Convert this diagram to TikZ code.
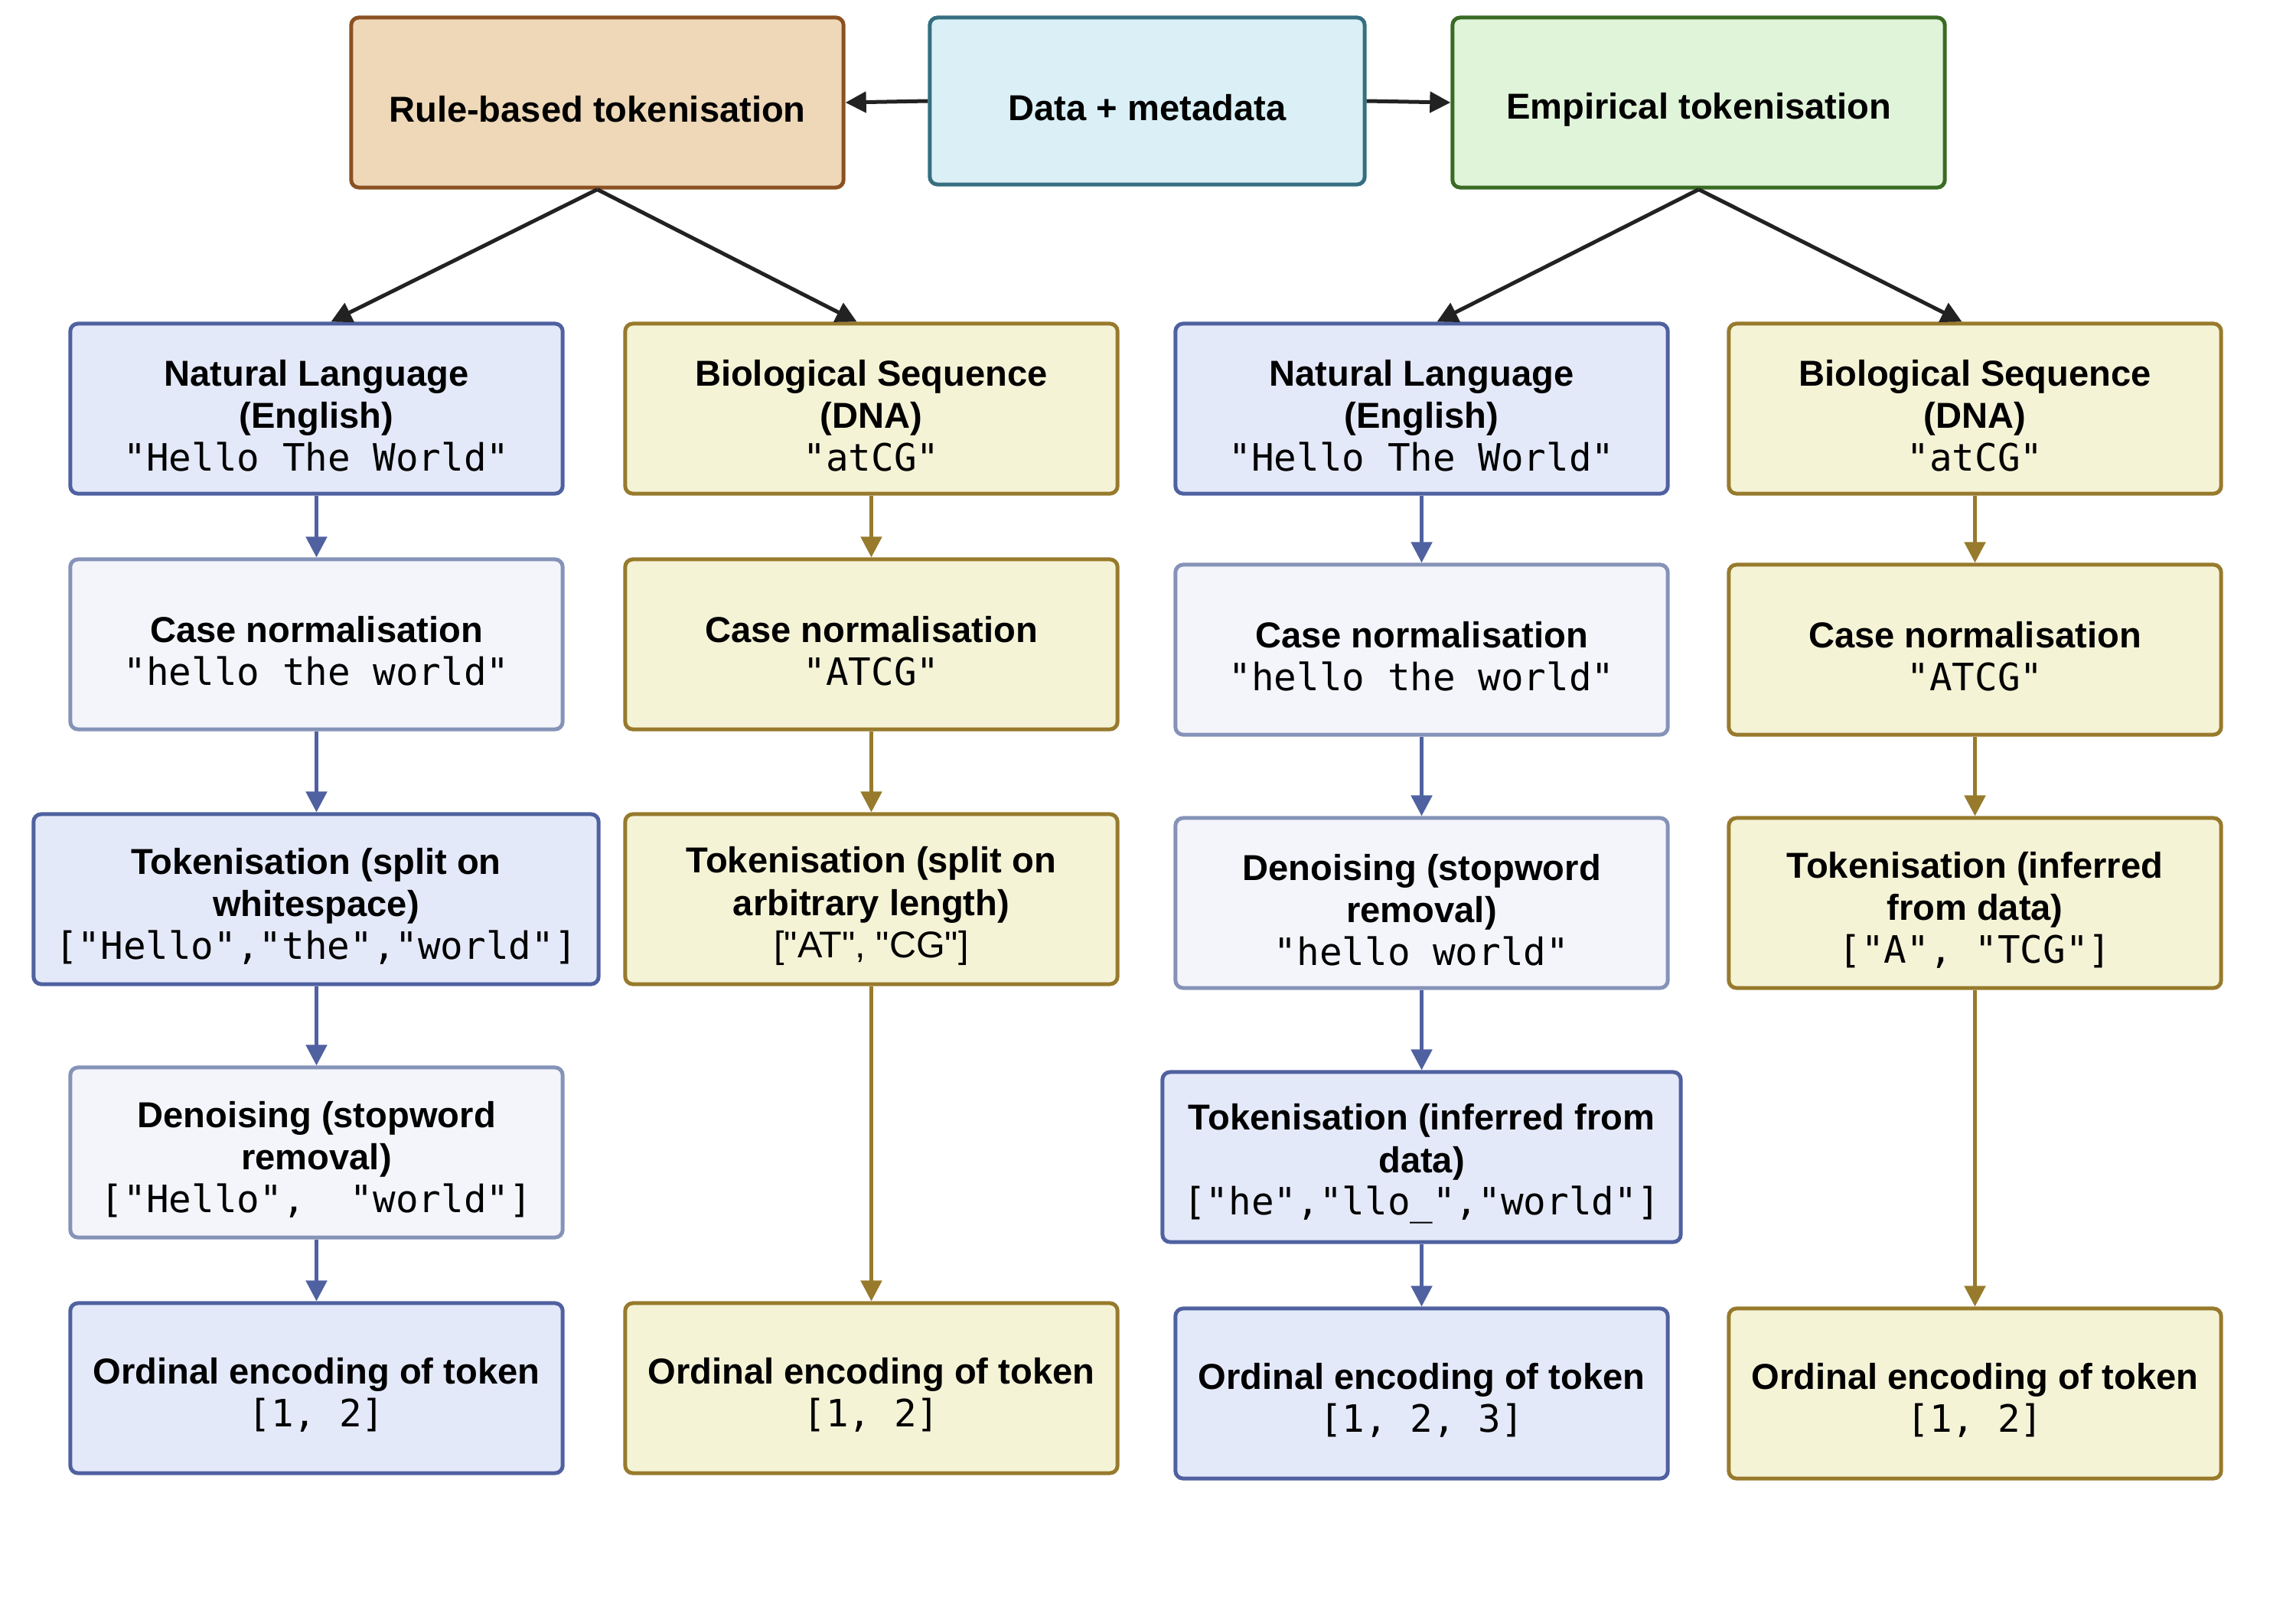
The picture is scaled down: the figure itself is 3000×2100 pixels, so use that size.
\documentclass[tikz,border=0pt]{standalone}
\usepackage{fontspec}
\setmainfont{Liberation Sans}
\newfontfamily\monof{DejaVu Sans Mono}
\newfontfamily\plainsans{Liberation Sans}[Ligatures=TeXOff]
\usetikzlibrary{arrows.meta}
\definecolor{rulefill}{HTML}{EED8B8}
\definecolor{ruledraw}{HTML}{8B5123}
\definecolor{datafill}{HTML}{DAF0F6}
\definecolor{datadraw}{HTML}{356F80}
\definecolor{empfill}{HTML}{E0F4DA}
\definecolor{empdraw}{HTML}{3A6B24}
\definecolor{nlfill}{HTML}{E4E9F9}
\definecolor{nldraw}{HTML}{4F61A0}
\definecolor{ltfill}{HTML}{F3F5FB}
\definecolor{ltdraw}{HTML}{8693B8}
\definecolor{biofill}{HTML}{F5F3D6}
\definecolor{biodraw}{HTML}{977A2C}
\definecolor{darkarr}{HTML}{222222}
\newcommand\mtx[1]{{\monof\mdseries\fontsize{14}{15.8}\selectfont #1}}
\newcommand\rtx[1]{{\plainsans\mdseries\fontsize{13.8}{15.8}\selectfont #1}}
\newcommand\fl{\rule{0pt}{14.8pt}}
\begin{document}
\begin{tikzpicture}[x=0.01cm,y=-0.01cm,
  box/.style={draw, line width=0.05cm, rounded corners=0.1cm, align=center,
    font=\bfseries\fontsize{13.4}{15.8}\selectfont, inner sep=0pt,
    minimum width=6.43cm, minimum height=2.22cm},
  rulebox/.style={box, fill=rulefill, draw=ruledraw},
  databox/.style={box, fill=datafill, draw=datadraw, minimum width=5.68cm, minimum height=2.18cm},
  empbox/.style={box, fill=empfill, draw=empdraw},
  nlbox/.style={box, fill=nlfill, draw=nldraw},
  ltbox/.style={box, fill=ltfill, draw=ltdraw},
  biobox/.style={box, fill=biofill, draw=biodraw},
  arr/.style={line width=0.05cm, -{Triangle[length=0.27cm,width=0.27cm]}},
  darr/.style={arr, draw=darkarr, fill=darkarr},
  barr/.style={arr, draw=nldraw, fill=nldraw},
  garr/.style={arr, draw=biodraw, fill=biodraw}]
\useasboundingbox (0,0) rectangle (3000,2100);
\fill[white] (0,0) rectangle (3000,2100);
% top row
\node[rulebox] (rule) at (780.5,134) {\fl Rule-based tokenisation};
\node[databox] (data) at (1499,132) {\fl Data + metadata};
\node[empbox] (emp) at (2219.5,134) {\fl Empirical tokenisation};
% column 1
\node[nlbox] (nl1) at (413.5,534) {\fl Natural Language\\(English)\\\mtx{"Hello The World"}};
\node[ltbox] (cn1) at (413.5,842) {\fl Case normalisation\\\mtx{"hello the world"}};
\node[nlbox, minimum width=7.38cm] (tk1) at (413,1175) {\fl Tokenisation (split on\\whitespace)\\\mtx{["Hello","the","world"]}};
\node[ltbox] (dn1) at (413.5,1506) {\fl Denoising (stopword\\removal)\\\mtx{["Hello",\ \ "world"]}};
\node[nlbox] (or1) at (413.5,1814) {\fl Ordinal encoding of token\\\mtx{[1, 2]}};
% column 2
\node[biobox] (bio2) at (1138.5,534) {\fl Biological Sequence\\(DNA)\\\mtx{"atCG"}};
\node[biobox] (cn2) at (1138.5,842) {\fl Case normalisation\\\mtx{"ATCG"}};
\node[biobox] (tk2) at (1138.5,1175) {\fl Tokenisation (split on\\arbitrary length)\\\rtx{["AT", "CG"]}};
\node[biobox] (or2) at (1138.5,1814) {\fl Ordinal encoding of token\\\mtx{[1, 2]}};
% column 3
\node[nlbox] (nl3) at (1857.5,534) {\fl Natural Language\\(English)\\\mtx{"Hello The World"}};
\node[ltbox] (cn3) at (1857.5,849) {\fl Case normalisation\\\mtx{"hello the world"}};
\node[ltbox] (dn3) at (1857.5,1180) {\fl Denoising (stopword\\removal)\\\mtx{"hello world"}};
\node[nlbox, minimum width=6.77cm] (tk3) at (1857.5,1512) {\fl Tokenisation (inferred from\\data)\\\mtx{["he","llo\_","world"]}};
\node[nlbox] (or3) at (1857.5,1821) {\fl Ordinal encoding of token\\\mtx{[1, 2, 3]}};
% column 4
\node[biobox] (bio4) at (2580.5,534) {\fl Biological Sequence\\(DNA)\\\mtx{"atCG"}};
\node[biobox] (cn4) at (2580.5,849) {\fl Case normalisation\\\mtx{"ATCG"}};
\node[biobox] (tk4) at (2580.5,1180) {\fl Tokenisation (inferred\\from data)\\\mtx{["A", "TCG"]}};
\node[biobox] (or4) at (2580.5,1821) {\fl Ordinal encoding of token\\\mtx{[1, 2]}};
% top connectors
\draw[darr] (data.west) -- (rule.east);
\draw[darr] (data.east) -- (emp.west);
\draw[darr] (rule.south) -- ([xshift=0.19cm]nl1.north);
\draw[darr] (rule.south) -- ([xshift=-0.19cm]bio2.north);
\draw[darr] (emp.south) -- ([xshift=0.2cm]nl3.north);
\draw[darr] (emp.south) -- ([xshift=-0.17cm]bio4.north);
% column flows
\draw[barr] (nl1) -- (cn1);
\draw[barr] (cn1) -- (cn1 |- tk1.north);
\draw[barr] (tk1.south -| dn1) -- (dn1);
\draw[barr] (dn1) -- (or1);
\draw[garr] (bio2) -- (cn2);
\draw[garr] (cn2) -- (tk2);
\draw[garr] (tk2) -- (or2);
\draw[barr] (nl3) -- (cn3);
\draw[barr] (cn3) -- (dn3);
\draw[barr] (dn3) -- (dn3 |- tk3.north);
\draw[barr] (tk3.south -| or3) -- (or3);
\draw[garr] (bio4) -- (cn4);
\draw[garr] (cn4) -- (tk4);
\draw[garr] (tk4) -- (or4);
\end{tikzpicture}
\end{document}
